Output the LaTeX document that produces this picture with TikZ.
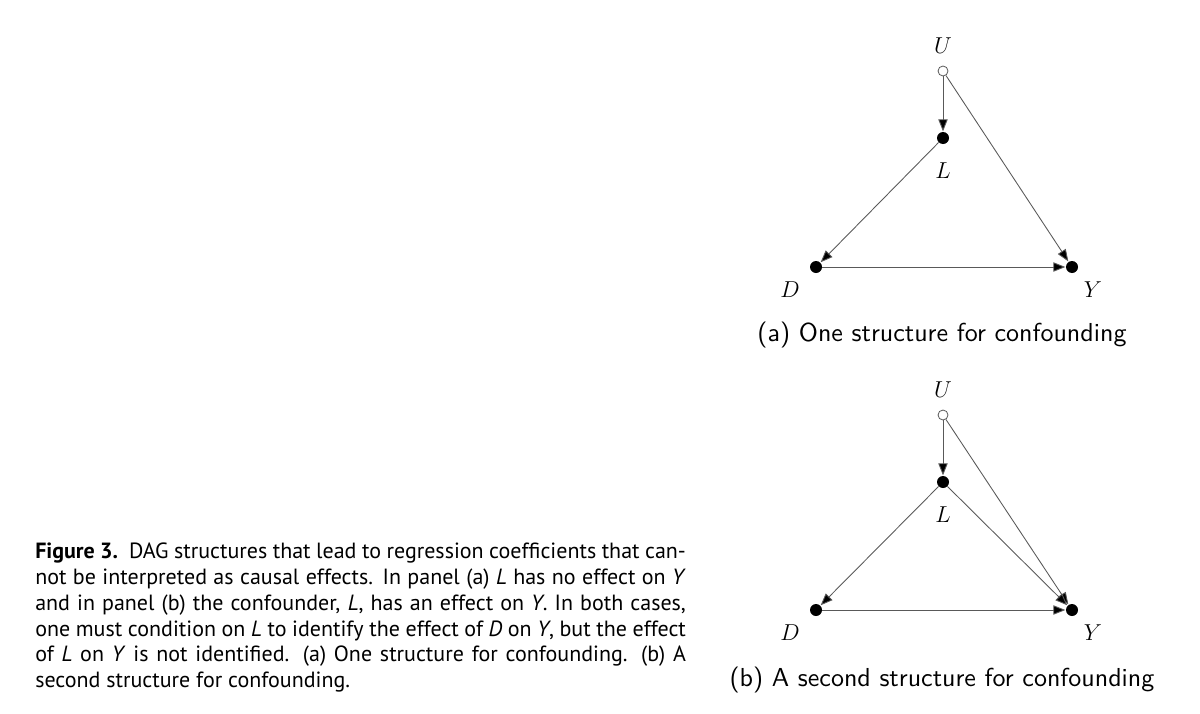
\documentclass[tikz,border=0pt]{standalone}
\usepackage{fontspec}
\usetikzlibrary{arrows.meta}
\newfontfamily\capfont{PT Sans}
\newfontfamily\subfont{lmsans10-regular}[Extension=.otf]
\begin{document}
\begin{tikzpicture}[x=0.75pt,y=-0.75pt,
  dotnode/.style={circle,fill=black,inner sep=0pt,minimum size=9pt},
  opennode/.style={circle,draw=black!65,fill=white,line width=0.6pt,inner sep=0pt,minimum size=7.5pt},
  varlabel/.style={font=\fontsize{16.5}{18}\selectfont,inner sep=0pt},
  edge/.style={draw=black!65,line width=0.65pt,-{Triangle[length=9pt,width=7pt,fill=black]},shorten >=0.3pt},
  subcap/.style={font=\subfont\fontsize{19.5}{22}\selectfont,inner sep=0pt}
]
\useasboundingbox (0,0) rectangle (1200,714);
\fill[white] (0,0) rectangle (1200,714);
% panel (a)
\node[opennode] (Ua) at (943,71) {};
\node[dotnode] (La) at (943,138) {};
\node[dotnode] (Da) at (816,267) {};
\node[dotnode] (Ya) at (1072,267) {};
\node[varlabel] (uLa) at (943,46) {$U$};
\node[varlabel] (lLa) at (943,171) {$L$};
\node[varlabel] (dLa) at (790,290) {$D$};
\node[varlabel] (yLa) at (1093,290) {$Y$};
\draw[edge] (Ua) -- (La);
\draw[edge] (La) -- (Da);
\draw[edge] (Da) -- (Ya);
\draw[edge] (Ua) -- (Ya);
\node[subcap] (capa) at (942,335) {(a) One structure for confounding};
% panel (b)
\node[opennode] (Ub) at (943,415) {};
\node[dotnode] (Lb) at (943,482) {};
\node[dotnode] (Db) at (816,610) {};
\node[dotnode] (Yb) at (1072,610) {};
\node[varlabel] (uLb) at (943,390) {$U$};
\node[varlabel] (lLb) at (943,515) {$L$};
\node[varlabel] (dLb) at (790,633) {$D$};
\node[varlabel] (yLb) at (1093,633) {$Y$};
\draw[edge] (Ub) -- (Lb);
\draw[edge] (Lb) -- (Db);
\draw[edge] (Db) -- (Yb);
\draw[edge] (Ub) -- (Yb);
\draw[edge] (Lb) -- (Yb);
\node[subcap] (capb) at (942,680) {(b) A second structure for confounding};
% caption
\node[anchor=north west,inner sep=0pt,text width=488pt,align=justify,
  font=\capfont\fontsize{16.5}{19.3}\selectfont] (caption) at (35,543)
  {\textbf{Figure 3.}\ \ DAG structures that lead to regression coefficients that can-\linebreak not be interpreted as causal effects. In panel (a) \textit{L} has no effect on \textit{Y}\linebreak and in panel (b) the confounder, \textit{L}, has an effect on \textit{Y}. In both cases,\linebreak one must condition on \textit{L} to identify the effect of \textit{D} on \textit{Y}, but the effect\linebreak of \textit{L} on \textit{Y} is not identified. (a) One structure for confounding. (b) A\linebreak second structure for confounding.\par};
\end{tikzpicture}
\end{document}
